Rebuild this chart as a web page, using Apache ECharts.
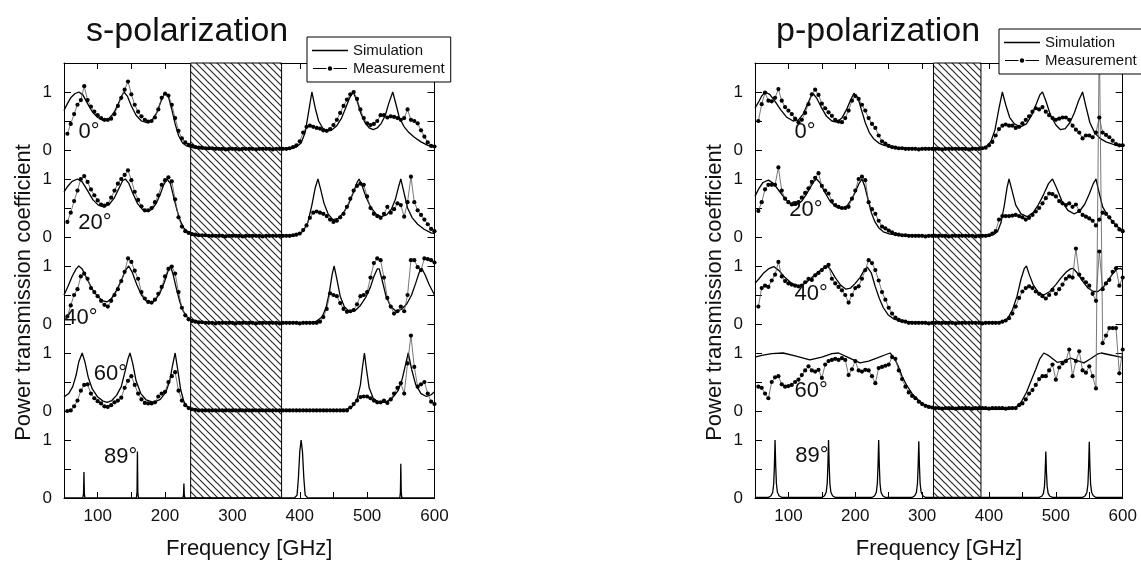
<!DOCTYPE html>
<html><head><meta charset="utf-8">
<script src="https://cdn.jsdelivr.net/npm/echarts@6/dist/echarts.min.js"></script>
<style>html,body{margin:0;padding:0;background:#fff}#c{width:1141px;height:565px}</style>
</head><body><div id="c"></div>
<script>
// ---------- DATA ----------
const TITLES = ['s-polarization', 'p-polarization'];
const LEGEND_NAMES = ['Simulation', 'Measurement'];
const ANGLES = ['0°', '20°', '40°', '60°', '89°'];
const X_NAME = 'Frequency [GHz]';
const Y_NAME = 'Power transmission coefficient';
const BLOCK_OFFSETS = [6, 4.5, 3, 1.5, 0];   // vertical offset of each angle block
const STOPBAND_S = [238, 373];
const STOPBAND_P = [317, 388];

// measurement frequency grid (GHz)
const FREQ_M = [55,60,65,70,75,80,85,90,95,100,105,110,115,120,125,130,135,140,145,150,
155,160,165,170,175,180,185,190,195,200,205,210,215,220,225,230,235,240,245,250,
255,260,265,270,275,280,285,290,295,300,305,310,315,320,325,330,335,340,345,350,
355,360,365,370,375,380,385,390,395,400,405,410,415,420,425,430,435,440,445,450,
455,460,465,470,475,480,485,490,495,500,505,510,515,520,525,530,535,540,545,550,
555,560,565,570,575,580,585,590,595,600];

// ---- s-polarization simulation [GHz, T] ----
const S_SIM_0 = [[50,.68],[55,.8],[60,.9],[66,.97],[72,1.0],[78,.95],[85,.8],[92,.66],[100,.56],[108,.51],[116,.53],[124,.64],[130,.78],[135,.92],[139,1.0],[144,.93],[150,.76],[157,.6],[165,.5],[173,.47],[181,.52],[188,.65],[194,.84],[200,1.0],[205,.92],[210,.7],[215,.45],[220,.25],[226,.12],[232,.07],[240,.04],[255,.02],[300,.01],[370,.01],[385,.02],[395,.05],[402,.12],[408,.3],[413,.65],[418,1.0],[423,.72],[428,.5],[434,.38],[440,.33],[447,.34],[455,.42],[462,.55],[468,.72],[474,.9],[479,1.0],[485,.85],[491,.62],[497,.47],[503,.38],[509,.35],[515,.38],[521,.46],[527,.6],[532,.8],[538,1.0],[543,.78],[548,.55],[555,.4],[562,.3],[570,.22],[580,.14],[590,.08],[600,.05]];
const S_SIM_20 = [[50,.78],[56,.88],[62,.96],[70,1.0],[77,.95],[85,.8],[93,.64],[101,.55],[109,.52],[117,.56],[125,.68],[132,.85],[137,.97],[141,1.0],[146,.93],[152,.76],[159,.58],[166,.48],[173,.44],[180,.47],[187,.58],[193,.74],[198,.9],[203,1.0],[208,.92],[213,.68],[218,.45],[223,.27],[228,.15],[235,.08],[245,.04],[260,.02],[300,.01],[380,.01],[395,.03],[405,.1],[412,.25],[418,.55],[423,.85],[427,1.0],[431,.82],[436,.58],[442,.4],[449,.3],[457,.32],[465,.42],[473,.58],[480,.78],[485,.94],[488,1.0],[492,.9],[498,.7],[505,.52],[513,.4],[521,.35],[529,.38],[536,.48],[542,.65],[547,.88],[550,1.0],[554,.8],[560,.5],[567,.33],[575,.22],[585,.13],[595,.07],[600,.06]];
const S_SIM_40 = [[50,.5],[56,.65],[62,.82],[68,.95],[72,1.0],[77,.95],[84,.78],[92,.6],[100,.47],[108,.4],[114,.38],[121,.45],[128,.58],[135,.75],[141,.92],[146,1.0],[151,.9],[158,.68],[165,.5],[172,.4],[179,.36],[186,.42],[193,.55],[199,.72],[204,.9],[208,1.0],[212,.85],[217,.6],[222,.38],[227,.22],[233,.12],[240,.07],[250,.04],[270,.02],[300,.01],[400,.01],[415,.02],[425,.05],[433,.12],[439,.28],[444,.55],[448,.85],[451,1.0],[455,.78],[460,.48],[466,.3],[474,.21],[482,.23],[490,.32],[498,.46],[505,.64],[510,.82],[515,.95],[518,.95],[523,.72],[528,.48],[535,.3],[543,.22],[551,.25],[559,.35],[566,.5],[572,.7],[577,.88],[581,.96],[586,.85],[592,.68],[600,.5]];
const S_SIM_60 = [[50,.24],[57,.3],[63,.42],[68,.62],[72,.85],[77,1.0],[81,.85],[86,.58],[92,.38],[100,.24],[108,.17],[114,.15],[121,.18],[128,.27],[135,.42],[141,.7],[145,.9],[148,1.0],[152,.82],[157,.52],[164,.3],[172,.19],[183,.15],[193,.2],[201,.32],[207,.52],[211,.78],[215,1.0],[219,.7],[223,.38],[228,.16],[233,.07],[240,.03],[260,.01],[460,.01],[470,.03],[478,.08],[485,.2],[490,.45],[493,.75],[496,1.0],[499,.72],[503,.4],[509,.22],[517,.15],[527,.15],[537,.22],[546,.35],[552,.55],[557,.8],[561,1.0],[566,.72],[572,.46],[580,.3],[588,.25],[595,.28],[600,.33]];
const S_SIM_89 = [[50,0],[78,0],[79,.08],[79.6,.45],[80.2,.08],[81,0],[157.5,0],[158.4,.1],[159,.8],[159.6,.1],[160.5,0],[226.5,0],[227.4,.05],[228,.25],[228.6,.05],[229.5,0],[392,0],[396,.05],[398,.35],[400,.8],[402,1.0],[404,.8],[406,.35],[408,.05],[412,0],[548.5,0],[549.4,.1],[550,.59],[550.6,.1],[551.5,0],[600,0]];

// ---- s-polarization measurement (values on FREQ_M) ----
const S_MEAS_0 = [.28,.45,.62,.78,.86,1.1,.86,.75,.66,.6,
.55,.52,.52,.54,.62,.76,.9,1.04,1.18,.96,
.78,.66,.58,.52,.49,.5,.56,.7,.9,.97,
.94,.78,.55,.33,.2,.13,.09,.07,.05,.04,
.04,.03,.03,.03,.02,.02,.02,.01,.02,.02,.02,.01,.02,.02,.02,.02,.01,.02,.02,.02,.02,.01,.02,.02,.02,.02,
.03,.05,.08,.15,.3,.4,.42,.4,.38,.37,
.34,.33,.36,.43,.52,.64,.76,.87,.96,1.0,
.88,.7,.55,.46,.43,.45,.5,.6,.6,.56,
.58,.57,.55,.52,.55,.7,.52,.5,.46,.34,
.23,.13,.07,.06];
const S_MEAS_20 = [.26,.42,.62,.8,1.0,1.05,.95,.82,.72,.63,
.56,.54,.57,.68,.8,.92,1.0,1.07,1.15,.98,
.78,.64,.53,.46,.46,.5,.6,.72,.9,.98,
1.03,.96,.65,.34,.18,.1,.07,.05,.04,.03,
.03,.03,.02,.02,.02,.02,.02,.01,.02,.02,.02,.02,.01,.02,.02,.02,.02,.02,.01,.02,.02,.02,.02,.02,.02,.02,
.02,.03,.04,.06,.12,.2,.33,.42,.44,.42,
.4,.36,.3,.26,.28,.34,.4,.52,.66,.8,
.88,.92,.9,.7,.5,.4,.36,.33,.4,.52,
.42,.48,.58,.55,.35,.6,1.04,.6,.46,.38,
.3,.22,.14,.1];
const S_MEAS_40 = [.13,.32,.5,.6,.82,.87,.78,.62,.55,.48,
.4,.33,.3,.4,.5,.6,.74,.9,1.13,1.07,
.92,.78,.55,.44,.38,.37,.42,.52,.64,.82,
.95,.99,.87,.55,.28,.15,.08,.05,.04,.03,
.03,
.02,.02,.02,.01,.02,.02,.02,.02,.02,.01,.02,.02,.02,.02,.02,.01,.02,.02,.02,.02,.02,.02,.01,.02,.02,.02,.02,.02,.01,.02,.02,.02,.02,.02,
.04,.12,.26,.53,.5,.48,.36,.26,.21,.22,
.24,.34,.48,.5,.55,.8,1.05,1.13,1.1,.8,
.45,.3,.18,.22,.3,.22,.5,1.1,1.1,.98,
.93,1.13,1.12,1.1,1.06];
const S_MEAS_60 = [0,.01,.08,.18,.35,.45,.46,.3,.22,.17,
.13,.08,.07,.1,.15,.18,.23,.4,.52,.6,
.45,.3,.2,.14,.13,.13,.15,.25,.3,.33,
.5,.6,.67,.35,.18,.1,.05,.03,.02,
.01,.01,.01,.01,.01,.01,.01,.01,.01,.01,.01,.01,.01,.01,.01,.01,.01,.01,.01,.01,.01,.01,.01,.01,.01,.01,.01,.01,.01,.01,.01,.01,.01,.01,.01,.01,.01,.01,.01,.01,.01,.01,.01,.01,.01,
.06,.12,.18,.24,.25,.25,.22,.18,.15,.15,
.18,.14,.2,.3,.4,.48,.3,.82,1.3,.76,
.42,.46,.5,.3,.16,.12];

// ---- p-polarization simulation [GHz, T] ----
const P_SIM_0 = [[50,.72],[55,.82],[60,.93],[65,1.0],[72,.96],[80,.84],[88,.7],[97,.57],[107,.5],[115,.52],[122,.62],[129,.8],[134,.93],[137,.97],[142,.9],[149,.74],[157,.58],[165,.5],[172,.48],[180,.55],[187,.7],[193,.86],[198,.98],[200,1.0],[204,.9],[209,.7],[215,.47],[221,.3],[227,.2],[235,.12],[243,.08],[255,.05],[270,.03],[300,.02],[380,.02],[390,.03],[397,.07],[403,.15],[409,.35],[415,.72],[420,1.0],[425,.78],[431,.56],[438,.45],[447,.4],[456,.45],[464,.6],[471,.8],[476,.95],[480,1.0],[485,.85],[492,.6],[500,.43],[507,.35],[514,.37],[521,.47],[528,.65],[534,.85],[540,1.0],[545,.75],[551,.47],[558,.3],[566,.2],[575,.14],[585,.1],[595,.07],[600,.07]];
const P_SIM_20 = [[50,.7],[55,.82],[62,.94],[70,.98],[78,.92],[87,.78],[97,.63],[105,.56],[112,.55],[120,.62],[127,.74],[134,.88],[139,.97],[142,1.0],[147,.94],[154,.78],[162,.62],[171,.52],[180,.49],[188,.54],[195,.66],[201,.8],[206,.93],[210,1.0],[214,.88],[219,.65],[224,.42],[229,.27],[235,.16],[242,.09],[252,.05],[267,.03],[300,.02],[400,.02],[407,.04],[413,.1],[418,.25],[423,.55],[427,.85],[430,1.0],[434,.82],[440,.55],[448,.4],[457,.35],[466,.42],[474,.56],[482,.74],[489,.92],[495,1.0],[501,.85],[509,.62],[518,.46],[527,.4],[535,.44],[543,.56],[550,.74],[556,.92],[560,1.0],[564,.8],[570,.52],[578,.36],[586,.25],[594,.16],[600,.12]];
const P_SIM_40 = [[50,.7],[56,.78],[63,.88],[70,.95],[78,.99],[86,.92],[95,.8],[105,.7],[115,.65],[125,.7],[135,.8],[145,.9],[153,.97],[158,1.0],[163,.94],[170,.8],[178,.67],[186,.6],[193,.62],[200,.7],[207,.8],[213,.92],[218,.98],[220,1.0],[224,.88],[230,.64],[236,.44],[242,.28],[249,.16],[257,.09],[268,.05],[285,.03],[320,.02],[410,.02],[420,.04],[428,.1],[435,.24],[442,.48],[448,.78],[453,.96],[456,1.0],[460,.86],[466,.68],[474,.54],[482,.5],[491,.56],[500,.68],[508,.8],[516,.9],[522,.95],[526,.96],[532,.88],[540,.74],[548,.62],[556,.56],[563,.56],[570,.62],[578,.75],[586,.88],[592,.95],[597,.96],[600,.93]];
const P_SIM_60 = [[50,.93],[60,.96],[75,.99],[92,1.0],[110,.95],[132,.88],[150,.93],[165,.99],[175,1.0],[190,.92],[207,.83],[220,.86],[232,.91],[245,.97],[252,1.0],[258,.92],[264,.78],[270,.6],[277,.44],[285,.3],[293,.2],[302,.12],[312,.07],[325,.04],[345,.03],[430,.03],[440,.06],[448,.15],[456,.32],[463,.52],[470,.72],[476,.9],[482,1.0],[490,.95],[502,.84],[512,.86],[522,.91],[532,.87],[542,.83],[552,.9],[562,.98],[568,1.0],[580,.97],[592,.94],[600,.92]];
const P_SIM_89 = [[50,.01],[70,.01],[74,.04],[76.5,.1],[78,.25],[79,.55],[80,1.0],[81,.55],[82,.25],[83.5,.1],[86,.04],[90,.01],
[150,.01],[154,.04],[156.5,.1],[158,.25],[159,.55],[160,1.0],[161,.55],[162,.25],[163.5,.1],[166,.04],[170,.01],
[225,.01],[229,.04],[231.5,.1],[233,.25],[234,.55],[235,1.0],[236,.55],[237,.25],[238.5,.1],[241,.04],[245,.01],
[285,.01],[289,.04],[291.5,.1],[293,.25],[294,.54],[295,.98],[296,.54],[297,.25],[298.5,.1],[301,.04],[305,.01],
[475,.01],[479,.03],[481.5,.08],[483,.2],[484,.44],[485,.8],[486,.44],[487,.2],[488.5,.08],[491,.03],[495,.01],
[540,.01],[544,.04],[546.5,.1],[548,.24],[549,.53],[550,.97],[551,.53],[552,.24],[553.5,.1],[556,.04],[560,.01],[600,.01]];

// ---- p-polarization measurement (values on FREQ_M) ----
const P_MEAS_0 = [.5,.79,.99,.85,.84,.9,1.05,.85,.74,.68,
.62,.54,.48,.52,.64,.79,.96,1.04,.95,.8,
.72,.65,.59,.52,.49,.48,.55,.68,.85,.93,
.88,.78,.68,.55,.45,.38,.25,.15,.11,.07,
.05,.04,.03,.03,.02,.02,.02,.02,.01,.02,.02,.02,.02,.02,.02,.01,.02,.02,.02,.02,.02,.02,.02,.01,.02,.02,
.02,.03,.04,.08,.14,.25,.36,.42,.44,.42,
.42,.38,.4,.46,.52,.58,.66,.72,.7,.74,
.66,.6,.55,.52,.54,.56,.56,.52,.42,.35,
.3,.2,.25,.25,.22,.3,.56,.3,.26,.22,
.16,.1,.08,.08];
const P_MEAS_20 = [.45,.6,.82,.9,.9,.9,1.2,.8,.66,.6,
.56,.57,.6,.68,.76,.84,.95,1.02,1.1,.88,
.8,.75,.62,.55,.52,.5,.5,.52,.66,.8,
1.0,1.04,.98,.6,.48,.4,.28,.18,.15,.11,
.08,.05,.04,.03,.03,
.02,.02,.02,.02,.02,.01,.02,.02,.02,.02,.02,.02,.01,.02,.02,.02,.02,.02,.02,.02,.01,.02,.02,.02,
.03,.06,.1,.3,.36,.36,.36,.37,.38,.36,
.34,.3,.33,.38,.44,.5,.58,.67,.75,.74,
.7,.62,.58,.55,.58,.52,.56,.45,.38,.35,
.32,.28,.2,.3,.42,.4,.34,.26,.2,.13,
.1];
const P_MEAS_40 = [.3,.62,.66,.64,.75,.85,1.07,.82,.74,.7,
.68,.66,.65,.66,.72,.78,.76,.84,.88,.93,
.98,1.02,.78,.7,.64,.58,.5,.37,.5,.62,
.65,.78,.93,1.1,1.05,.93,.75,.55,.42,.28,
.18,.11,.07,.05,.04,
.02,.02,.02,.02,.02,.02,.01,.02,.02,.02,.02,.02,.02,.02,.01,.02,.02,.02,.02,.02,.02,.02,.01,.02,.02,.02,.02,.02,
.04,.06,.1,.18,.3,.45,.56,.62,.65,.62,
.56,.52,.48,.44,.5,.59,.52,.6,.68,.78,
.82,.8,1.3,.85,.78,.72,.66,.52,.4,1.25,
.6,.7,.76,.9,.96,.66,.8];
const P_MEAS_60 = [.42,.4,.3,.22,.5,.58,.6,.46,.42,.43,
.45,.5,.54,.62,.7,.77,.7,.68,.71,.57,
.8,.86,.88,.9,.88,.91,.88,.62,.72,.86,
.7,.68,.71,.7,.6,.48,.74,.76,.78,.8,
.93,.9,.7,.55,.42,.32,.26,.22,.16,.12,
.09,.07,.06,
.05,.05,.04,.05,.05,.05,.04,.05,.05,.05,.05,.04,.05,.05,.05,.05,.04,.05,.05,.05,.05,.04,.05,.05,.05,
.1,.13,.2,.3,.36,.45,.55,.6,.6,.7,
.8,.54,.75,.82,.86,1.06,.6,.86,1.03,.7,
.66,.77,.6,.39,6.5,1.17,1.3,1.43,1.43,1.43,
.65,1.06];

// angle label anchor points [GHz, y] per panel (annotation placement)
const S_LABEL_AT = [[87,6.31],[96,4.74],[75,3.1],[119,2.14],[134,0.71]];
const P_LABEL_AT = [[125,6.31],[126,4.97],[134,3.52],[134,1.84],[135,0.72]];

// ---------- CHART ----------
const FONT = "'Liberation Sans', Arial, Helvetica, sans-serif";
const TXT = '#111';

function hatchCanvas() {
  const s = 7, c = document.createElement('canvas');
  c.width = s; c.height = s;
  const g = c.getContext('2d');
  g.fillStyle = '#fff'; g.fillRect(0, 0, s, s);
  g.strokeStyle = '#2a2a2a'; g.lineWidth = 1.2;
  g.beginPath();
  g.moveTo(-1, -1); g.lineTo(s + 1, s + 1);
  g.moveTo(-1, s - 1); g.lineTo(1, s + 1);
  g.moveTo(s - 1, -1); g.lineTo(s + 1, 1);
  g.stroke();
  return c;
}
const HATCH = hatchCanvas();

const panels = [
  { sims: [S_SIM_0, S_SIM_20, S_SIM_40, S_SIM_60, S_SIM_89],
    meas: [S_MEAS_0, S_MEAS_20, S_MEAS_40, S_MEAS_60],
    stop: STOPBAND_S, labels: S_LABEL_AT },
  { sims: [P_SIM_0, P_SIM_20, P_SIM_40, P_SIM_60, P_SIM_89],
    meas: [P_MEAS_0, P_MEAS_20, P_MEAS_40, P_MEAS_60],
    stop: STOPBAND_P, labels: P_LABEL_AT }
];

const grids = [
  { left: 64, top: 63, width: 370.5, height: 435 },
  { left: 755, top: 63, width: 367.7, height: 436 }
];

const xAxis = [], yAxis = [], series = [];
const axisLine = { show: true, onZero: false, lineStyle: { color: '#000', width: 1 } };
grids.forEach((g, gi) => {
  xAxis.push({
    gridIndex: gi, type: 'value', min: 50, max: 600, interval: 50, position: 'bottom',
    axisLine, axisTick: { show: true, inside: true, length: 6, lineStyle: { color: '#000' } },
    axisLabel: { formatter: v => (v % 100 === 0 ? String(v) : ''), fontSize: 17, color: TXT, fontFamily: FONT, margin: 10 },
    splitLine: { show: false },
    name: X_NAME, nameLocation: 'middle', nameGap: 40,
    nameTextStyle: { fontSize: 22, color: TXT, fontFamily: FONT }
  });
  xAxis.push({
    gridIndex: gi, type: 'value', min: 50, max: 600, interval: 50, position: 'top',
    axisLine, axisTick: { show: true, inside: true, length: 6, lineStyle: { color: '#000' } },
    axisLabel: { show: false }, splitLine: { show: false }
  });
  yAxis.push({
    gridIndex: gi, type: 'value', min: 0, max: 7.5, interval: 0.5, position: 'left',
    axisLine, axisTick: { show: true, inside: true, length: 7, lineStyle: { color: '#000' } },
    axisLabel: {
      formatter: v => { if (v >= 7.5) return ''; const r = Math.round(v * 2) % 3; return r === 0 ? '0' : (r === 2 ? '1' : ''); },
      fontSize: 17, color: TXT, fontFamily: FONT, margin: 12
    },
    splitLine: { show: false },
    name: Y_NAME, nameLocation: 'middle', nameGap: 29,
    nameTextStyle: { fontSize: 22, color: TXT, fontFamily: FONT, padding: [0, 24, 0, 0] }
  });
  yAxis.push({
    gridIndex: gi, type: 'value', min: 0, max: 7.5, interval: 0.5, position: 'right',
    axisLine, axisTick: { show: true, inside: true, length: 7, lineStyle: { color: '#000' } },
    axisLabel: { show: false }, splitLine: { show: false }
  });

  const xi = gi * 2, yi = gi * 2;
  const p = panels[gi];
  // hatched stop band
  series.push({
    type: 'line', xAxisIndex: xi, yAxisIndex: yi, data: [[50, -1]], symbol: 'none',
    lineStyle: { opacity: 0 }, z: 1, silent: true,
    markArea: {
      silent: true,
      itemStyle: { color: { image: HATCH, repeat: 'repeat' }, borderColor: '#000', borderWidth: 1, opacity: 1 },
      data: [[{ xAxis: p.stop[0] }, { xAxis: p.stop[1] }]]
    }
  });
  p.sims.forEach((arr, k) => {
    const off = BLOCK_OFFSETS[k];
    series.push({
      name: LEGEND_NAMES[0], type: 'line', xAxisIndex: xi, yAxisIndex: yi,
      data: arr.map(d => [d[0], d[1] + off]), symbol: 'none',
      lineStyle: { color: '#000', width: 1.3 }, itemStyle: { color: '#000' }, z: 3, silent: true
    });
  });
  p.meas.forEach((vals, k) => {
    const off = BLOCK_OFFSETS[k];
    series.push({
      name: LEGEND_NAMES[1], type: 'line', xAxisIndex: xi, yAxisIndex: yi,
      data: FREQ_M.map((f, i) => [f, vals[i] + off]),
      symbol: 'circle', symbolSize: 4.2, showSymbol: true,
      lineStyle: { color: '#555', width: 0.8 }, itemStyle: { color: '#000' }, z: 4, silent: true
    });
  });
  series.push({
    type: 'scatter', xAxisIndex: xi, yAxisIndex: yi, silent: true, z: 5,
    data: p.labels.map((pt, k) => [pt[0], pt[1], ANGLES[k]]),
    symbolSize: 0, itemStyle: { color: '#000', opacity: 1 },
    label: { show: true, position: 'inside', formatter: q => q.value[2], fontSize: 22, color: '#111', opacity: 1, fontFamily: FONT }
  });
});

const ICON_SIM = 'path://M0,0L0.01,0L0,0.01Z M0,6.35L36,6.35L36,7.65L0,7.65Z M36,14L35.99,14L36,13.99Z';
const ICON_MEAS = 'path://M0,0L0.01,0L0,0.01Z M1,6.6L14.5,6.6L14.5,7.4L1,7.4Z M21.5,6.6L35,6.6L35,7.4L21.5,7.4Z M20.2,7A2.2,2.2,0,1,1,15.8,7A2.2,2.2,0,1,1,20.2,7Z M36,14L35.99,14L36,13.99Z';

const legendCommon = {
  orient: 'vertical',
  data: [{ name: LEGEND_NAMES[0], icon: ICON_SIM }, { name: LEGEND_NAMES[1], icon: ICON_MEAS }],
  backgroundColor: '#fff', borderColor: '#000', borderWidth: 1,
  borderRadius: 0, padding: [6, 6, 6, 5], itemWidth: 36, itemHeight: 14, itemGap: 3,
  textStyle: { fontSize: 15, color: '#111', fontFamily: FONT }, selectedMode: false, z: 10
};

const chart = echarts.init(document.getElementById('c'), null, { renderer: 'canvas' });
chart.setOption({
  animation: false,
  backgroundColor: '#fff',
  title: [
    { text: TITLES[0], left: 86, top: 15, padding: 0, textStyle: { fontSize: 34, fontWeight: 'normal', color: TXT, fontFamily: FONT } },
    { text: TITLES[1], left: 776, top: 15, padding: 0, textStyle: { fontSize: 34, fontWeight: 'normal', color: TXT, fontFamily: FONT } }
  ],
  legend: [
    Object.assign({ left: 307, top: 37 }, legendCommon),
    Object.assign({ left: 999, top: 29 }, legendCommon)
  ],
  grid: grids,
  xAxis, yAxis, series
});
</script></body></html>
